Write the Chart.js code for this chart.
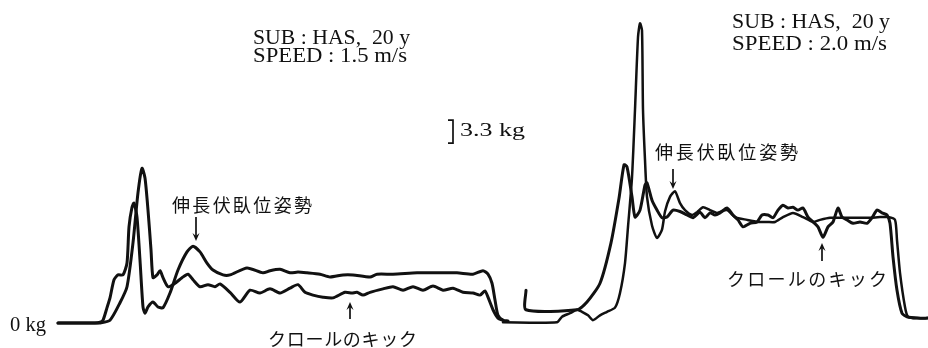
<!DOCTYPE html>
<html>
<head>
<meta charset="utf-8">
<script src="https://cdn.jsdelivr.net/npm/chart.js@4"></script>
<style>
  html, body { margin: 0; padding: 0; background: #ffffff; }
  #wrap { width: 928px; height: 348px; position: relative; }
</style>
</head>
<body>
<div id="wrap"><canvas id="c" width="928" height="348"></canvas></div>
<script>
// ---- Data (time in arbitrary sample units, force in kg) ----
// Left panel, speed 1.5 m/s
const leftA_t  = [58,95,100,103,107,110,114,118,123,127,129,132,134,137,140,143,145,148,153,158,163,170,178,187,193,200,207,213,223,230,247,263,270,280,290,298,307,320,330,343,353,370,377,393,417,433,457,473,483,488,492,495,498,503,508];
const leftA_kg = [0,0,0.1,0.4,2.2,3.6,6.2,6.9,6.9,8.6,13.8,16.6,17.2,15.2,9.0,2.3,1.4,2.3,3.0,2.3,2.2,4.3,7.6,10.2,11.0,10.2,8.6,7.6,6.9,6.9,7.9,7.2,7.5,7.7,7.2,7.3,7.2,7.0,6.6,6.9,6.9,6.6,7.0,7.0,7.2,7.2,7.2,7.0,7.5,7.0,5.7,3.3,1.1,0.4,0.3];
const leftB_t  = [58,95,100,110,120,127,133,138,142,145,148,151,153,157,160,163,168,175,182,188,193,200,208,215,220,230,240,250,260,270,280,290,298,305,313,323,333,345,352,357,363,370,383,393,403,413,423,433,443,453,463,473,480,485,488,493,498,503];
const leftB_kg = [0,0,0,0.4,2.9,5.2,11.5,18.7,22.2,20.8,16.2,10.5,6.5,6.9,7.5,6.5,5.2,5.7,6.5,7.0,6.2,5.2,5.5,5.2,5.6,4.4,3.0,4.7,4.3,4.9,4.3,5.0,5.5,4.4,4.0,3.7,3.6,4.4,4.3,4.4,4.0,4.4,4.9,5.2,4.7,5.2,4.7,5.3,4.7,5.0,4.4,4.3,4.0,4.6,3.7,1.9,0.7,0.4];
// Right panel, speed 2.0 m/s
const rightC_t  = [526,526,577,587,600,611,619,624,627,632,635,640,645,647,652,657,662,667,673,680,687,693,700,705,710,715,720,727,733,738,743,750,757,762,768,773,778,783,788,793,798,803,808,813,818,823,828,833,838,842,847,853,860,867,872,877,882,887,890,893,897,902,907,917,928];
const rightC_kg = [4.7,1.9,1.9,3.0,5.7,11.5,17.9,22.7,22.4,18.1,15.2,16.2,19.8,20.1,17.6,16.2,15.1,15.2,16.2,16.0,15.5,15.1,15.9,15.1,15.8,15.5,15.8,16.5,15.5,14.8,13.8,14.3,14.5,15.5,15.5,15.1,16.2,16.9,16.5,16.6,16.2,16.5,15.2,14.5,13.8,12.3,13.8,14.5,16.5,15.2,14.8,14.3,14.5,14.3,15.1,16.2,15.8,15.5,14.3,9.5,4.7,1.4,0.9,0.7,0.7];
const rightD_t  = [503,557,562,570,577,582,588,593,600,607,615,620,625,628,632,635,638,640,642,643,645,647,652,657,662,665,670,675,680,685,692,697,703,710,717,727,735,747,758,767,775,783,793,803,813,820,830,843,857,870,880,888,895,897,900,905,908,917,928];
const rightD_kg = [0.1,0.1,0.9,1.4,1.9,1.6,1.1,0.4,1.1,1.6,2.2,4.3,8.6,13.8,20.9,30.6,41.0,43.0,42.0,30.6,23.4,18.1,14.0,12.2,13.4,16.0,18.1,18.9,17.2,16.2,15.5,15.9,16.6,16.2,15.8,16.2,15.2,14.8,14.5,14.5,14.5,15.2,15.8,15.2,14.5,14.8,15.1,15.1,15.1,15.1,15.2,15.2,14.8,11.9,7.2,2.3,0.9,0.7,0.7];
// Scale bar (kg)
const scaleBarBase = 25.8;
const scaleBarSize = 3.3;
// Texts
const leftInfo  = ["SUB : HAS,  20 y", "SPEED : 1.5 m/s"];
const rightInfo = ["SUB : HAS,  20 y", "SPEED : 2.0 m/s"];
const postureLabel = "伸長伏臥位姿勢";
const kickLabel = "クロールのキック";
const zeroLabel = "0 kg";
const scaleLabel = "3.3 kg";

function pts(t, v) { return t.map((x, i) => ({ x: x, y: v[i] })); }

const lineStyle = { showLine: true, pointRadius: 0, borderColor: '#111111', borderWidth: 3, tension: 0.22, fill: false, borderJoinStyle: 'round', borderCapStyle: 'round' };

function drawFit(ctx, text, x0, x1, baseY, font) {
  ctx.save();
  ctx.font = font;
  ctx.textBaseline = 'alphabetic';
  const w = ctx.measureText(text).width;
  ctx.translate(x0, baseY);
  ctx.scale((x1 - x0) / w, 1);
  ctx.fillText(text, 0, 0);
  ctx.restore();
}
function drawSpaced(ctx, text, x0, x1, midY, font) {
  ctx.save();
  ctx.font = font;
  ctx.textBaseline = 'middle';
  const chars = Array.from(text);
  const ws = chars.map(ch => ctx.measureText(ch).width);
  const total = ws.reduce((a, b) => a + b, 0);
  const gap = (x1 - x0 - total) / (chars.length - 1);
  let x = x0;
  chars.forEach((ch, i) => { ctx.fillText(ch, x, midY); x += ws[i] + gap; });
  ctx.restore();
}
function arrow(ctx, x, yTail, yHead) {
  const dir = yHead > yTail ? 1 : -1;
  ctx.save();
  ctx.strokeStyle = '#111111';
  ctx.fillStyle = '#111111';
  ctx.lineWidth = 1.7;
  ctx.beginPath(); ctx.moveTo(x, yTail); ctx.lineTo(x, yHead - dir * 3); ctx.stroke();
  ctx.beginPath();
  ctx.moveTo(x, yHead);
  ctx.lineTo(x - 3.5, yHead - dir * 8);
  ctx.lineTo(x, yHead - dir * 5);
  ctx.lineTo(x + 3.5, yHead - dir * 8);
  ctx.closePath(); ctx.fill();
  ctx.restore();
}

const annotations = {
  id: 'annotations',
  afterDatasetsDraw(chart) {
    const ctx = chart.ctx;
    const ys = chart.scales.y;
    ctx.save();
    ctx.fillStyle = '#111111';
    const serif = '22px "Liberation Serif", "DejaVu Serif", serif';
    drawFit(ctx, leftInfo[0], 253, 410, 44, serif);
    drawFit(ctx, leftInfo[1], 253, 407, 62, serif);
    drawFit(ctx, rightInfo[0], 732, 890, 28, serif);
    drawFit(ctx, rightInfo[1], 732, 887, 50, serif);
    // scale bar
    const yTop = ys.getPixelForValue(scaleBarBase + scaleBarSize);
    const yBot = ys.getPixelForValue(scaleBarBase);
    ctx.strokeStyle = '#111111';
    ctx.lineWidth = 1.7;
    ctx.beginPath();
    ctx.moveTo(448, yTop); ctx.lineTo(453, yTop); ctx.lineTo(453, yBot); ctx.lineTo(448, yBot);
    ctx.stroke();
    drawFit(ctx, scaleLabel, 460, 525, 136, '19px "Liberation Serif", serif');
    drawFit(ctx, zeroLabel, 10, 46, 331, '20px "Liberation Serif", serif');
    const jp = '18px "Noto Sans CJK JP", sans-serif';
    drawSpaced(ctx, postureLabel, 172, 312, 205, jp);
    drawSpaced(ctx, kickLabel, 268, 417, 339, jp);
    drawSpaced(ctx, postureLabel, 655, 798, 152, jp);
    drawSpaced(ctx, kickLabel, 727, 887, 279, jp);
    arrow(ctx, 196, 217, 241);
    arrow(ctx, 350, 319, 302);
    arrow(ctx, 673, 169, 189);
    arrow(ctx, 822, 261, 243);
    ctx.restore();
  }
};

new Chart(document.getElementById('c'), {
  type: 'scatter',
  data: {
    datasets: [
      Object.assign({ label: 'left A', data: pts(leftA_t, leftA_kg) }, lineStyle),
      Object.assign({ label: 'left B', data: pts(leftB_t, leftB_kg) }, lineStyle),
      Object.assign({ label: 'right C', data: pts(rightC_t, rightC_kg) }, lineStyle),
      Object.assign({ label: 'right D', data: pts(rightD_t, rightD_kg) }, lineStyle, { borderWidth: 2.5 })
    ]
  },
  options: {
    responsive: false,
    animation: false,
    devicePixelRatio: 1,
    layout: { padding: 0 },
    plugins: { legend: { display: false }, tooltip: { enabled: false } },
    scales: {
      x: { type: 'linear', min: 0, max: 928, display: false },
      y: { type: 'linear', min: -3.59, max: 46.35, display: false }
    }
  },
  plugins: [annotations]
});
</script>
</body>
</html>
